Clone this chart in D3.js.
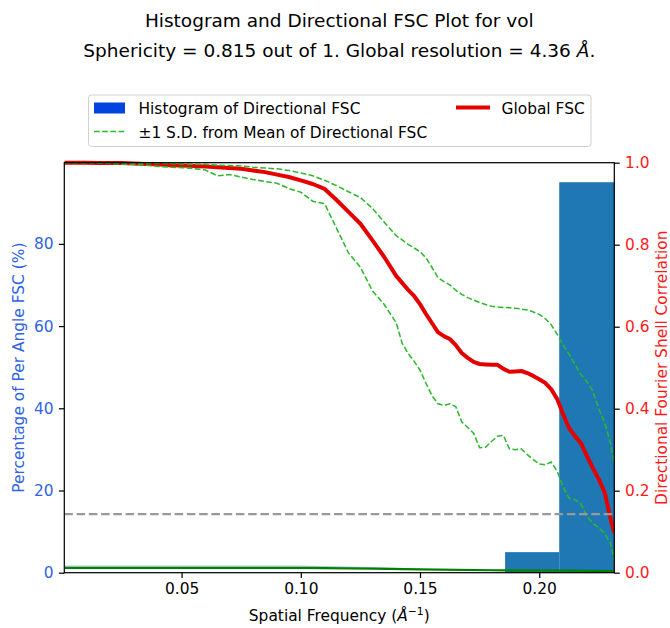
<!DOCTYPE html>
<html>
<head>
<meta charset="utf-8">
<script src="https://cdn.jsdelivr.net/npm/d3@7"></script>
<style>
  html, body { margin: 0; padding: 0; background: #fff; }
  svg { display: block; font-family: "DejaVu Sans", sans-serif; }
</style>
</head>
<body>
<svg id="chart" width="670" height="628"></svg>
<script>
// Spatial frequency samples (1/Å)
const FREQ = [
  0.0008, 0.005, 0.010, 0.015, 0.020, 0.025, 0.030, 0.035, 0.040, 0.045,
  0.050, 0.055, 0.060, 0.065, 0.070, 0.075, 0.080, 0.085, 0.090, 0.095,
  0.100, 0.105, 0.110, 0.115, 0.120, 0.125, 0.130, 0.135, 0.140,
  0.1425, 0.145, 0.1475, 0.150, 0.1525, 0.155, 0.1575, 0.160, 0.1625, 0.165,
  0.1675, 0.170, 0.1725, 0.175, 0.1775, 0.180, 0.1825, 0.185, 0.1875, 0.190,
  0.1925, 0.195, 0.1975, 0.200, 0.2025, 0.205, 0.2075, 0.210, 0.2125, 0.215,
  0.2175, 0.220, 0.2225, 0.225, 0.2275, 0.230, 0.2315
];

// Global FSC curve
const GLOBAL_FSC = [
  1.000, 1.000, 1.000, 0.999, 0.999, 0.999, 0.998, 0.997, 0.996, 0.994,
  0.993, 0.992, 0.991, 0.989, 0.987, 0.985, 0.981, 0.977, 0.971, 0.965,
  0.957, 0.948, 0.936, 0.909, 0.880, 0.851, 0.811, 0.770, 0.724,
  0.707, 0.690, 0.675, 0.655, 0.631, 0.609, 0.587, 0.577, 0.570, 0.555,
  0.536, 0.524, 0.514, 0.509, 0.508, 0.507, 0.507, 0.497, 0.490, 0.491,
  0.492, 0.487, 0.480, 0.472, 0.463, 0.448, 0.424, 0.387, 0.353, 0.333,
  0.316, 0.285, 0.255, 0.228, 0.195, 0.130, 0.097
];

// Mean of directional FSC + 1 S.D.
const SD_UPPER = [
  1.000, 1.000, 1.000, 1.000, 1.000, 1.000, 0.999, 0.999, 0.999, 0.998,
  0.997, 0.996, 0.996, 0.994, 0.993, 0.992, 0.989, 0.987, 0.985, 0.981,
  0.975, 0.968, 0.957, 0.944, 0.929, 0.915, 0.889, 0.855, 0.822,
  0.812, 0.801, 0.792, 0.783, 0.768, 0.745, 0.720, 0.710, 0.702, 0.689,
  0.679, 0.671, 0.665, 0.659, 0.654, 0.650, 0.648, 0.647, 0.646, 0.645,
  0.643, 0.641, 0.636, 0.630, 0.620, 0.605, 0.582, 0.556, 0.533, 0.508,
  0.483, 0.466, 0.443, 0.400, 0.366, 0.313, 0.268
];

// Mean of directional FSC - 1 S.D.
const SD_LOWER = [
  1.000, 1.000, 1.000, 0.999, 0.998, 0.997, 0.996, 0.994, 0.991, 0.989,
  0.988, 0.986, 0.982, 0.968, 0.971, 0.965, 0.959, 0.954, 0.950, 0.937,
  0.928, 0.906, 0.900, 0.840, 0.780, 0.745, 0.688, 0.654, 0.610,
  0.560, 0.535, 0.516, 0.494, 0.462, 0.432, 0.412, 0.408, 0.412, 0.405,
  0.368, 0.354, 0.340, 0.305, 0.306, 0.320, 0.333, 0.335, 0.302, 0.300,
  0.302, 0.288, 0.276, 0.265, 0.263, 0.270, 0.248, 0.210, 0.182, 0.178,
  0.168, 0.137, 0.121, 0.109, 0.096, 0.070, 0.030
];

// Low trace along the bottom of the FSC axis
const BASE_FREQ  = [0.0008, 0.100, 0.130, 0.150, 0.180, 0.210, 0.2315];
const BASE_FSC   = [0.012, 0.012, 0.010, 0.008, 0.006, 0.005, 0.004];
const BASE_HALO  = [0.016, 0.016, 0.012, 0.008, 0.006, 0.005, 0.004];

// Histogram of directional resolution (bin edges in 1/Å, percent of angles)
const HIST_EDGES = [0.1857, 0.2084, 0.2315];
const HIST_PERCENT = [5, 95];

const X_TICKS = [0.05, 0.10, 0.15, 0.20];
const LEFT_TICKS = [0, 20, 40, 60, 80];
const RIGHT_TICKS = [0.0, 0.2, 0.4, 0.6, 0.8, 1.0];
const FSC_THRESHOLD = 0.143;

const TITLE_1 = "Histogram and Directional FSC Plot for vol";
const TITLE_2 = "Sphericity = 0.815 out of 1. Global resolution = 4.36 ";

// ---- layout ----
const L = 64.3, R = 614.3, T = 162.7, B = 572.7;
const PT = 111 / 72;        // pixels per point
const FS = 10 * PT;         // tick / label font size
const TFS = 12 * PT;        // title font size
const TICK = 3.5 * PT;
const BLUE_TXT = "#2f63e3";
const BLUE_PATCH = "#0343df";
const RED_TXT = "#ff1a1a";
const RED_LINE = "#e50000";
const GREEN_DASH = "#2cb82c";
const DASH = `${3.7 * PT},${1.6 * PT}`;

const svg = d3.select("#chart");

const x = d3.scaleLinear().domain([FREQ[0], FREQ[FREQ.length - 1]]).range([L, R]);
const yPct = d3.scaleLinear().domain([0, d3.max(HIST_PERCENT) * 1.05]).range([B, T]);
const yFsc = d3.scaleLinear().domain([0, 1]).range([B, T]);

// ---- histogram (left axis) ----
const bins = HIST_PERCENT.map((p, i) => ({ x0: HIST_EDGES[i], x1: HIST_EDGES[i + 1], p }));
svg.append("g").selectAll("rect").data(bins).join("rect")
  .attr("x", d => x(d.x0))
  .attr("width", d => x(d.x1) - x(d.x0))
  .attr("y", d => yPct(d.p))
  .attr("height", d => yPct(0) - yPct(d.p))
  .attr("fill", "#1f77b4");

// ---- FSC curves (right axis) ----
svg.append("clipPath").attr("id", "plotclip")
  .append("rect").attr("x", L).attr("y", T - 3).attr("width", R - L).attr("height", B - T + 3);

const gLines = svg.append("g").attr("clip-path", "url(#plotclip)");
const line = d3.line().x((d, i) => x(FREQ[i])).y(d => yFsc(d));
const baseLine = d3.line().x((d, i) => x(BASE_FREQ[i])).y(d => yFsc(d));

gLines.append("path").attr("d", baseLine(BASE_HALO))
  .attr("fill", "none").attr("stroke", "#b3cbe0").attr("stroke-width", 1.4);
gLines.append("path").attr("d", baseLine(BASE_FSC))
  .attr("fill", "none").attr("stroke", "#008000").attr("stroke-width", 2.2);

gLines.append("path").attr("d", line(GLOBAL_FSC))
  .attr("fill", "none").attr("stroke", RED_LINE).attr("stroke-width", 2.6 * PT)
  .attr("stroke-linejoin", "round").attr("stroke-linecap", "butt");

[SD_UPPER, SD_LOWER].forEach(s => {
  gLines.append("path").attr("d", line(s))
    .attr("fill", "none").attr("stroke", GREEN_DASH).attr("stroke-width", 1.0 * PT)
    .attr("stroke-dasharray", DASH);
});

gLines.append("line")
  .attr("x1", L).attr("x2", R)
  .attr("y1", yFsc(FSC_THRESHOLD)).attr("y2", yFsc(FSC_THRESHOLD))
  .attr("stroke", "#999999").attr("stroke-width", 1.5 * PT)
  .attr("stroke-dasharray", `${5.55 * PT},${2.4 * PT}`);

// ---- spines ----
svg.append("rect").attr("x", L).attr("y", T).attr("width", R - L).attr("height", B - T)
  .attr("fill", "none").attr("stroke", "#000").attr("stroke-width", 0.8 * PT);

// ---- axes ----
function styleAxis(g, color) {
  g.select(".domain").remove();
  g.selectAll(".tick line").attr("stroke", "#000").attr("stroke-width", 0.8 * PT);
  g.selectAll(".tick text").attr("fill", color).attr("font-size", FS)
    .attr("font-family", "DejaVu Sans");
}

svg.append("g").attr("transform", `translate(0,${B})`)
  .call(d3.axisBottom(x).tickValues(X_TICKS).tickFormat(d3.format(".2f"))
    .tickSize(TICK).tickPadding(TICK))
  .call(g => styleAxis(g, "#000"));

svg.append("g").attr("transform", `translate(${L},0)`)
  .call(d3.axisLeft(yPct).tickValues(LEFT_TICKS).tickFormat(d3.format("d"))
    .tickSize(TICK).tickPadding(TICK))
  .call(g => styleAxis(g, BLUE_TXT));

svg.append("g").attr("transform", `translate(${R},0)`)
  .call(d3.axisRight(yFsc).tickValues(RIGHT_TICKS).tickFormat(d3.format(".1f"))
    .tickSize(TICK).tickPadding(TICK))
  .call(g => styleAxis(g, RED_TXT));

// ---- axis labels ----
const xl = svg.append("text").attr("x", (L + R) / 2).attr("y", 621)
  .attr("text-anchor", "middle").attr("font-size", FS).attr("fill", "#000");
xl.append("tspan").text("Spatial Frequency (");
xl.append("tspan").attr("font-style", "italic").text("Å");
xl.append("tspan").attr("font-size", FS * 0.7).attr("dy", -6.5).text("\u22121");
xl.append("tspan").attr("dy", 6.5).text(")");

svg.append("text")
  .attr("transform", `translate(23.5,${(T + B) / 2}) rotate(-90)`)
  .attr("text-anchor", "middle").attr("font-size", FS).attr("fill", BLUE_TXT)
  .text("Percentage of Per Angle FSC (%)");

svg.append("text")
  .attr("transform", `translate(667,${(T + B) / 2}) rotate(-90)`)
  .attr("text-anchor", "middle").attr("font-size", FS).attr("fill", RED_TXT)
  .text("Directional Fourier Shell Correlation");

// ---- titles ----
svg.append("text").attr("x", (L + R) / 2).attr("y", 26.5)
  .attr("text-anchor", "middle").attr("font-size", TFS).attr("fill", "#000")
  .text(TITLE_1);
const t2 = svg.append("text").attr("x", (L + R) / 2).attr("y", 57)
  .attr("text-anchor", "middle").attr("font-size", TFS).attr("fill", "#000");
t2.append("tspan").text(TITLE_2);
t2.append("tspan").attr("font-style", "italic").text("Å");
t2.append("tspan").text(".");

// ---- legend ----
const lg = svg.append("g");
lg.append("rect").attr("x", 88.5).attr("y", 95).attr("width", 502.5).attr("height", 51.5)
  .attr("rx", 3).attr("fill", "#fff").attr("fill-opacity", 0.8)
  .attr("stroke", "#d0d0d0").attr("stroke-width", 1);
lg.append("rect").attr("x", 94).attr("y", 102.5).attr("width", 31).attr("height", 11)
  .attr("fill", BLUE_PATCH);
lg.append("text").attr("x", 138.5).attr("y", 113.8).attr("font-size", FS).attr("fill", "#000")
  .text("Histogram of Directional FSC");
lg.append("line").attr("x1", 456).attr("x2", 490).attr("y1", 107.5).attr("y2", 107.5)
  .attr("stroke", RED_LINE).attr("stroke-width", 2.6 * PT);
lg.append("text").attr("x", 501.5).attr("y", 113.8).attr("font-size", FS).attr("fill", "#000")
  .text("Global FSC");
lg.append("line").attr("x1", 94).attr("x2", 125).attr("y1", 131.5).attr("y2", 131.5)
  .attr("stroke", GREEN_DASH).attr("stroke-width", 1.0 * PT).attr("stroke-dasharray", DASH);
lg.append("text").attr("x", 138.5).attr("y", 138).attr("font-size", FS).attr("fill", "#000")
  .text("\u00b11 S.D. from Mean of Directional FSC");
</script>
</body>
</html>
